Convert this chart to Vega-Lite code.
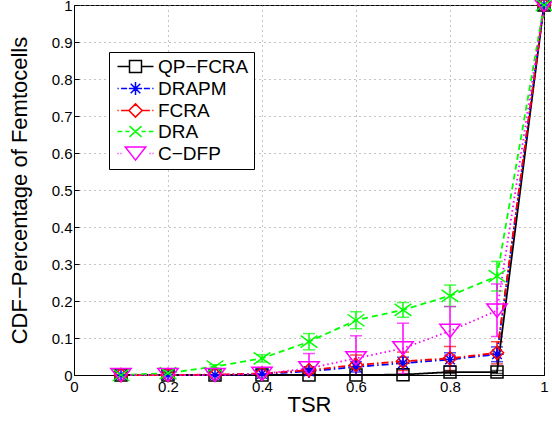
{
  "$schema": "https://vega.github.io/schema/vega-lite/v6.json",
  "width": 470,
  "height": 370,
  "autosize": {"type": "none"},
  "padding": {"left": 74, "top": 5, "right": 8, "bottom": 47},
  "background": "white",
  "config": {
    "font": "Liberation Sans",
    "view": {"stroke": "black", "strokeWidth": 1},
    "axis": {
      "domainColor": "black",
      "domainWidth": 1,
      "tickColor": "black",
      "tickSize": -5,
      "labelFont": "Liberation Sans",
      "labelFontSize": 15,
      "labelColor": "black",
      "labelPadding": 9,
      "labelOverlap": false,
      "labelFlush": false,
      "titleFont": "Liberation Sans",
      "titleFontSize": 22,
      "titleFontWeight": "normal",
      "titleColor": "black",
      "grid": true,
      "gridColor": "#8a8a8a",
      "gridDash": [1, 4],
      "gridWidth": 1
    },
    "axisY": {"labelPadding": 7, "titlePadding": 20},
    "axisX": {"titlePadding": 0},
    "legend": {
      "orient": "none",
      "legendX": 35,
      "legendY": 47,
      "padding": 5,
      "strokeColor": "black",
      "fillColor": "white",
      "labelFont": "Liberation Sans",
      "labelFontSize": 19,
      "labelColor": "black",
      "symbolSize": 144,
      "symbolStrokeWidth": 1.5,
      "symbolFillColor": "transparent",
      "symbolOffset": 12,
      "labelOffset": 13,
      "rowPadding": 1
    }
  },
  "datasets": {
    "pts": [
      {"s": "QP−FCRA", "x": 0.1, "y": 0, "lo": null, "hi": null},
      {"s": "QP−FCRA", "x": 0.2, "y": 0, "lo": null, "hi": null},
      {"s": "QP−FCRA", "x": 0.3, "y": 0, "lo": null, "hi": null},
      {"s": "QP−FCRA", "x": 0.4, "y": 0, "lo": null, "hi": null},
      {"s": "QP−FCRA", "x": 0.5, "y": 0, "lo": null, "hi": null},
      {"s": "QP−FCRA", "x": 0.6, "y": 0, "lo": null, "hi": null},
      {"s": "QP−FCRA", "x": 0.7, "y": 0.001, "lo": null, "hi": null},
      {"s": "QP−FCRA", "x": 0.8, "y": 0.008, "lo": 0.004, "hi": 0.012},
      {"s": "QP−FCRA", "x": 0.9, "y": 0.008, "lo": 0.004, "hi": 0.012},
      {"s": "QP−FCRA", "x": 1.0, "y": 1, "lo": null, "hi": null},
      {"s": "DRAPM", "x": 0.1, "y": 0, "lo": null, "hi": null},
      {"s": "DRAPM", "x": 0.2, "y": 0, "lo": null, "hi": null},
      {"s": "DRAPM", "x": 0.3, "y": 0, "lo": null, "hi": null},
      {"s": "DRAPM", "x": 0.4, "y": 0.003, "lo": null, "hi": null},
      {"s": "DRAPM", "x": 0.5, "y": 0.01, "lo": 0.002, "hi": 0.018},
      {"s": "DRAPM", "x": 0.6, "y": 0.022, "lo": 0.008, "hi": 0.036},
      {"s": "DRAPM", "x": 0.7, "y": 0.032, "lo": 0.016, "hi": 0.048},
      {"s": "DRAPM", "x": 0.8, "y": 0.042, "lo": 0.024, "hi": 0.06},
      {"s": "DRAPM", "x": 0.9, "y": 0.056, "lo": 0.036, "hi": 0.076},
      {"s": "DRAPM", "x": 1.0, "y": 1, "lo": null, "hi": null},
      {"s": "FCRA", "x": 0.1, "y": 0, "lo": null, "hi": null},
      {"s": "FCRA", "x": 0.2, "y": 0, "lo": null, "hi": null},
      {"s": "FCRA", "x": 0.3, "y": 0.001, "lo": null, "hi": null},
      {"s": "FCRA", "x": 0.4, "y": 0.004, "lo": null, "hi": null},
      {"s": "FCRA", "x": 0.5, "y": 0.013, "lo": 0.004, "hi": 0.022},
      {"s": "FCRA", "x": 0.6, "y": 0.027, "lo": 0.0, "hi": 0.054},
      {"s": "FCRA", "x": 0.7, "y": 0.037, "lo": 0.012, "hi": 0.062},
      {"s": "FCRA", "x": 0.8, "y": 0.045, "lo": 0.011, "hi": 0.077},
      {"s": "FCRA", "x": 0.9, "y": 0.06, "lo": 0.03, "hi": 0.09},
      {"s": "FCRA", "x": 1.0, "y": 1, "lo": null, "hi": null},
      {"s": "DRA", "x": 0.1, "y": 0, "lo": null, "hi": null},
      {"s": "DRA", "x": 0.2, "y": 0.005, "lo": null, "hi": null},
      {"s": "DRA", "x": 0.3, "y": 0.023, "lo": 0.018, "hi": 0.028},
      {"s": "DRA", "x": 0.4, "y": 0.045, "lo": 0.035, "hi": 0.055},
      {"s": "DRA", "x": 0.5, "y": 0.09, "lo": 0.068, "hi": 0.112},
      {"s": "DRA", "x": 0.6, "y": 0.148, "lo": 0.125, "hi": 0.171},
      {"s": "DRA", "x": 0.7, "y": 0.176, "lo": 0.156, "hi": 0.196},
      {"s": "DRA", "x": 0.8, "y": 0.214, "lo": 0.185, "hi": 0.243},
      {"s": "DRA", "x": 0.9, "y": 0.267, "lo": 0.227, "hi": 0.307},
      {"s": "DRA", "x": 1.0, "y": 1, "lo": null, "hi": null},
      {"s": "C−DFP", "x": 0.1, "y": 0, "lo": null, "hi": null},
      {"s": "C−DFP", "x": 0.2, "y": 0, "lo": null, "hi": null},
      {"s": "C−DFP", "x": 0.3, "y": 0, "lo": null, "hi": null},
      {"s": "C−DFP", "x": 0.4, "y": 0.003, "lo": -0.007, "hi": 0.013},
      {"s": "C−DFP", "x": 0.5, "y": 0.018, "lo": -0.022, "hi": 0.058},
      {"s": "C−DFP", "x": 0.6, "y": 0.045, "lo": -0.016, "hi": 0.106},
      {"s": "C−DFP", "x": 0.7, "y": 0.072, "lo": 0.004, "hi": 0.14},
      {"s": "C−DFP", "x": 0.8, "y": 0.119, "lo": 0.053, "hi": 0.185},
      {"s": "C−DFP", "x": 0.9, "y": 0.174, "lo": 0.104, "hi": 0.246},
      {"s": "C−DFP", "x": 1.0, "y": 1, "lo": null, "hi": null}
    ]
  },
  "data": {"name": "pts"},
  "encoding": {
    "x": {
      "field": "x",
      "type": "quantitative",
      "scale": {"domain": [0, 1], "nice": false},
      "axis": {"values": [0, 0.2, 0.4, 0.6, 0.8, 1], "format": "~g", "title": "TSR", "labelOverlap": false}
    },
    "color": {
      "field": "s",
      "type": "nominal",
      "scale": {
        "domain": ["QP−FCRA", "DRAPM", "FCRA", "DRA", "C−DFP"],
        "range": ["#000000", "#0000ff", "#ff0000", "#00ff00", "#ff00ff"]
      },
      "legend": {"title": null}
    }
  },
  "layer": [
    {
      "transform": [{"filter": "datum.lo != null"}],
      "mark": {"type": "rule", "strokeWidth": 1.5, "clip": true},
      "encoding": {
        "y": {
          "field": "lo",
          "type": "quantitative",
          "scale": {"domain": [0, 1], "nice": false},
          "axis": {"values": [0, 0.1, 0.2, 0.3, 0.4, 0.5, 0.6, 0.7, 0.8, 0.9, 1], "format": "~g", "title": "CDF−Percentage of Femtocells", "labelOverlap": false, "tickCount": 11}
        },
        "y2": {"field": "hi"}
      }
    },
    {
      "transform": [{"filter": "datum.lo != null"}],
      "mark": {"type": "tick", "orient": "horizontal", "size": 12, "thickness": 1.5, "clip": true},
      "encoding": {
        "y": {
          "field": "lo",
          "type": "quantitative",
          "axis": {"values": [0, 0.1, 0.2, 0.3, 0.4, 0.5, 0.6, 0.7, 0.8, 0.9, 1], "format": "~g", "title": "CDF−Percentage of Femtocells", "labelOverlap": false, "tickCount": 11}
        },
        "color": null,
        "fill": {
          "field": "s",
          "type": "nominal",
          "scale": {
            "domain": ["C−DFP", "DRA", "DRAPM", "FCRA", "QP−FCRA"],
            "range": ["#ff00ff", "#00ff00", "#0000ff", "#ff0000", "#000000"]
          },
          "legend": null
        }
      }
    },
    {
      "transform": [{"filter": "datum.hi != null"}],
      "mark": {"type": "tick", "orient": "horizontal", "size": 12, "thickness": 1.5, "clip": true},
      "encoding": {
        "y": {
          "field": "hi",
          "type": "quantitative",
          "axis": {"values": [0, 0.1, 0.2, 0.3, 0.4, 0.5, 0.6, 0.7, 0.8, 0.9, 1], "format": "~g", "title": "CDF−Percentage of Femtocells", "labelOverlap": false, "tickCount": 11}
        },
        "color": null,
        "fill": {
          "field": "s",
          "type": "nominal",
          "scale": {
            "domain": ["C−DFP", "DRA", "DRAPM", "FCRA", "QP−FCRA"],
            "range": ["#ff00ff", "#00ff00", "#0000ff", "#ff0000", "#000000"]
          },
          "legend": null
        }
      }
    },
    {
      "mark": {"type": "line", "strokeWidth": 1.8},
      "encoding": {
        "y": {
          "field": "y",
          "type": "quantitative",
          "axis": {"values": [0, 0.1, 0.2, 0.3, 0.4, 0.5, 0.6, 0.7, 0.8, 0.9, 1], "format": "~g", "title": "CDF−Percentage of Femtocells", "labelOverlap": false, "tickCount": 11}
        },
        "strokeDash": {
          "field": "s",
          "type": "nominal",
          "scale": {
            "domain": ["C−DFP", "DRA", "DRAPM", "FCRA", "QP−FCRA"],
            "range": [[1.5, 3], [6, 4], [7, 3, 1.5, 3], [7, 3, 1.5, 3], [1, 0]]
          },
          "legend": null
        }
      }
    },
    {
      "transform": [{"filter": "datum.s == 'QP−FCRA'"}],
      "mark": {"type": "point", "shape": "M-1,-1H1V1H-1Z", "filled": false, "size": 144, "strokeWidth": 1.5, "opacity": 1},
      "encoding": {
        "y": {"field": "y", "type": "quantitative", "axis": {"values": [0, 0.1, 0.2, 0.3, 0.4, 0.5, 0.6, 0.7, 0.8, 0.9, 1], "format": "~g", "title": "CDF−Percentage of Femtocells", "labelOverlap": false, "tickCount": 11}}
      }
    },
    {
      "transform": [{"filter": "datum.s == 'DRAPM'"}],
      "mark": {"type": "point", "shape": "M-1.1,0H1.1M0,-1.1V1.1M-0.8,-0.8L0.8,0.8M-0.8,0.8L0.8,-0.8", "filled": false, "size": 144, "strokeWidth": 1.5, "opacity": 1},
      "encoding": {
        "y": {"field": "y", "type": "quantitative", "axis": {"values": [0, 0.1, 0.2, 0.3, 0.4, 0.5, 0.6, 0.7, 0.8, 0.9, 1], "format": "~g", "title": "CDF−Percentage of Femtocells", "labelOverlap": false, "tickCount": 11}}
      }
    },
    {
      "transform": [{"filter": "datum.s == 'FCRA'"}],
      "mark": {"type": "point", "shape": "M0,-1.1L1.1,0L0,1.1L-1.1,0Z", "filled": false, "size": 144, "strokeWidth": 1.5, "opacity": 1},
      "encoding": {
        "y": {"field": "y", "type": "quantitative", "axis": {"values": [0, 0.1, 0.2, 0.3, 0.4, 0.5, 0.6, 0.7, 0.8, 0.9, 1], "format": "~g", "title": "CDF−Percentage of Femtocells", "labelOverlap": false, "tickCount": 11}}
      }
    },
    {
      "transform": [{"filter": "datum.s == 'DRA'"}],
      "mark": {"type": "point", "shape": "M-1.4,-1L1.4,1M-1.4,1L1.4,-1", "filled": false, "size": 144, "strokeWidth": 1.5, "opacity": 1},
      "encoding": {
        "y": {"field": "y", "type": "quantitative", "axis": {"values": [0, 0.1, 0.2, 0.3, 0.4, 0.5, 0.6, 0.7, 0.8, 0.9, 1], "format": "~g", "title": "CDF−Percentage of Femtocells", "labelOverlap": false, "tickCount": 11}}
      }
    },
    {
      "transform": [{"filter": "datum.s == 'C−DFP'"}],
      "mark": {"type": "point", "shape": "M-1.7,-1.1H1.7L0,1.1Z", "filled": false, "size": 144, "strokeWidth": 1.5, "opacity": 1},
      "encoding": {
        "y": {"field": "y", "type": "quantitative", "axis": {"values": [0, 0.1, 0.2, 0.3, 0.4, 0.5, 0.6, 0.7, 0.8, 0.9, 1], "format": "~g", "title": "CDF−Percentage of Femtocells", "labelOverlap": false, "tickCount": 11}}
      }
    },
    {
      "transform": [{"filter": "false"}],
      "mark": {"type": "point", "filled": false, "size": 144, "strokeWidth": 1.5},
      "encoding": {
        "y": {"field": "y", "type": "quantitative", "axis": {"values": [0, 0.1, 0.2, 0.3, 0.4, 0.5, 0.6, 0.7, 0.8, 0.9, 1], "format": "~g", "title": "CDF−Percentage of Femtocells", "labelOverlap": false, "tickCount": 11}},
        "shape": {
          "field": "s",
          "type": "nominal",
          "scale": {
            "domain": ["QP−FCRA", "DRAPM", "FCRA", "DRA", "C−DFP"],
            "range": [
              "M-3,0H-1M1,0H3M-1,-1H1V1H-1Z",
              "M-3,0H-2.8M-2.4,0H-1.4M1.4,0H2.4M2.8,0H3M-1.1,0H1.1M0,-1.1V1.1M-0.8,-0.8L0.8,0.8M-0.8,0.8L0.8,-0.8",
              "M-3,0H-2.8M-2.4,0H-1.1M1.1,0H2.4M2.8,0H3M0,-1.1L1.1,0L0,1.1L-1.1,0Z",
              "M-3,0H-2.2M-1.7,0H-1M1,0H1.7M2.2,0H3M-1,-0.9L1,0.9M-1,0.9L1,-0.9",
              "M-3,0H-2.85M-2.5,0H-2.35M2.35,0H2.5M2.85,0H3M-1.7,-1.1H1.7L0,1.1Z"
            ]
          },
          "legend": {"title": null}
        }
      }
    }
  ]
}
